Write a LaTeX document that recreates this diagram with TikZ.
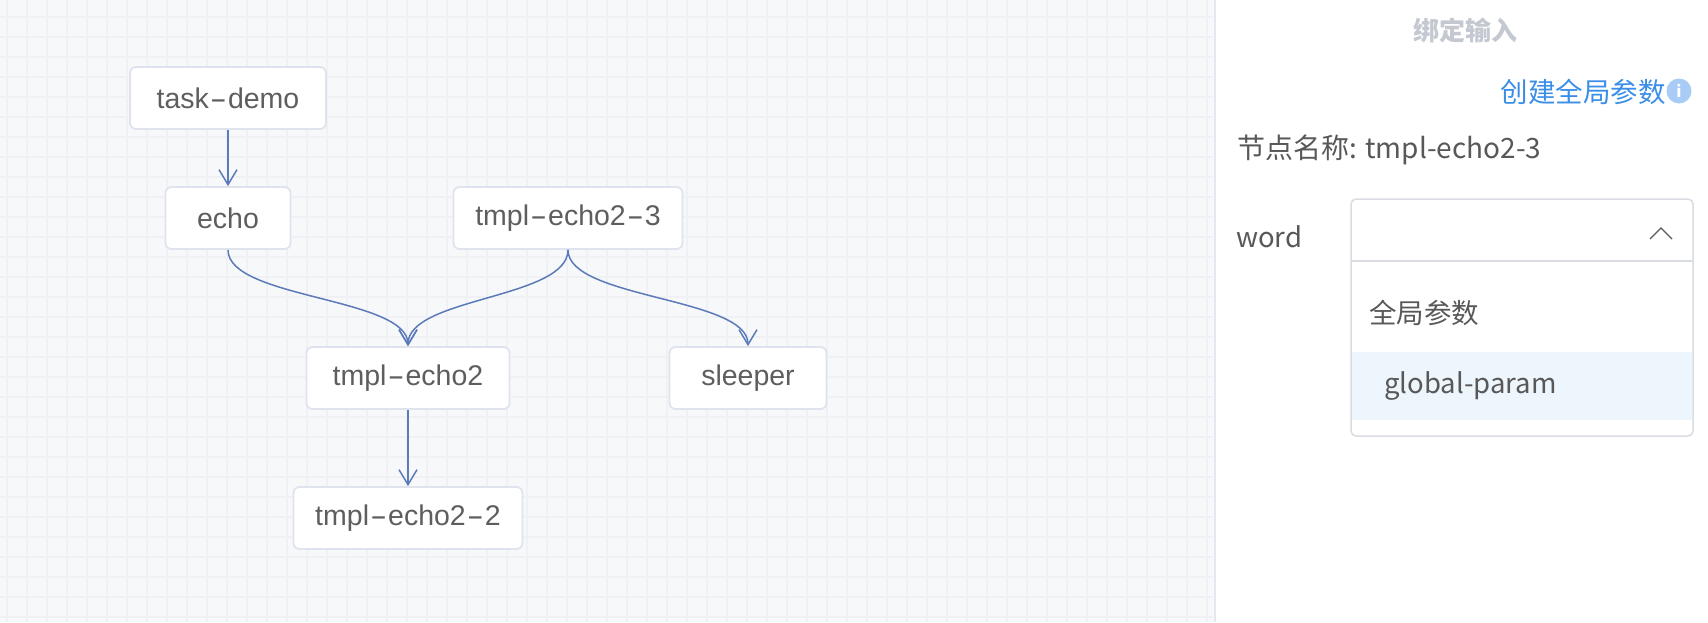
\documentclass[tikz,border=0pt]{standalone}
\usepackage{fontspec}
\setmainfont{Liberation Sans}
\newfontfamily\cjk{Noto Sans CJK SC}
\usetikzlibrary{arrows.meta}
\definecolor{canvasbg}{HTML}{F7F8FA}
\definecolor{gridc}{HTML}{F0F1F4}
\definecolor{sepc}{HTML}{E3E7EF}
\definecolor{nodeborder}{HTML}{DFE3EE}
\definecolor{nodetext}{HTML}{5E5E5E}
\definecolor{edgec}{HTML}{5C7BB8}
\definecolor{titlec}{HTML}{C4C8D0}
\definecolor{linkc}{HTML}{3A8EE8}
\definecolor{infoc}{HTML}{A9CCF6}
\definecolor{labelc}{HTML}{585858}
\definecolor{boxborder}{HTML}{D9DCE3}
\definecolor{hlc}{HTML}{EDF5FD}
\newcommand\wdash{\kern1pt\scalebox{1.8}[1]{-}\kern1pt}
\begin{document}
\begin{tikzpicture}[x=1pt,y=-1pt,
  taskbox/.style={draw=nodeborder, line width=1.8pt, fill=white, rounded corners=6pt,
    minimum height=62pt, inner sep=0pt, text=nodetext, font=\fontsize{28.5}{32}\selectfont},
  edge/.style={draw=edgec, line width=1.5pt, -{Straight Barb[length=15pt,width=18pt]}},
  gridline/.style={draw=gridc, line width=1.5pt},
  paneltext/.style={inner sep=0pt, text=labelc, font=\cjk\fontsize{27.5}{30}\selectfont}]
\useasboundingbox (0,0) rectangle (1708,622);
% canvas
\fill[canvasbg] (0,0) rectangle (1214,622);
\foreach \x in {7,27,...,1207} \draw[gridline] (\x,0) -- (\x,622);
\foreach \y in {17,37,...,617} \draw[gridline] (0,\y) -- (1213,\y);
% right panel
\fill[white] (1215,0) rectangle (1708,622);
\draw[sepc, line width=2pt] (1214.5,0) -- (1214.5,622);
% nodes
\node[taskbox, minimum width=196pt] (td) at (228,98) {task\wdash demo};
\node[taskbox, minimum width=125pt] (echo) at (228,218) {echo};
\node[taskbox, minimum width=229pt] (t23) at (568,218) {tmpl\wdash echo2\wdash 3};
\node[taskbox, minimum width=203pt] (t2) at (408,378) {tmpl\wdash echo2};
\node[taskbox, minimum width=157pt] (sl) at (748,378) {sleeper};
\node[taskbox, minimum width=229pt] (t22) at (408,518) {tmpl\wdash echo2\wdash 2};
% edges
\draw[edge] (td.south) -- (echo.north);
\draw[edge] (echo.south) .. controls +(0,49) and +(0,-49) .. (t2.north);
\draw[edge] (t23.south) .. controls +(0,49) and +(0,-49) .. (t2.north);
\draw[edge] (t23.south) .. controls +(0,49) and +(0,-49) .. (sl.north);
\draw[edge] (t2.south) -- (t22.north);
% panel content
\node[paneltext, text=titlec, font=\cjk\bfseries\fontsize{26}{30}\selectfont] (title) at (1465,30) {绑定输入};
\node[paneltext, text=linkc, anchor=east, font=\cjk\fontsize{27.5}{30}\selectfont] (link) at (1666,92) {创建全局参数};
\node[circle, fill=infoc, minimum size=25pt, inner sep=0pt, text=white,
  font=\cjk\bfseries\fontsize{16}{16}\selectfont] (info) at (1679,91) {i};
\node[paneltext, anchor=west, font=\cjk\fontsize{28}{30}\selectfont] (nname) at (1237,150) {节点名称: tmpl-echo2-3};
\node[paneltext, anchor=west] (word) at (1236,237) {word};
% dropdown
\fill[hlc] (1352,352) rectangle (1692,420);
\draw[boxborder, line width=1.5pt, rounded corners=5pt] (1351,199) rectangle (1693,436);
\draw[boxborder, line width=1.5pt] (1351,261) -- (1693,261);
\draw[labelc, line width=1.2pt] (1650,239) -- (1661,228) -- (1672,239);
\node[paneltext, anchor=west] (grp) at (1369,313) {全局参数};
\node[paneltext, anchor=west] (gp) at (1384,386) {global-param};
\end{tikzpicture}
\end{document}
